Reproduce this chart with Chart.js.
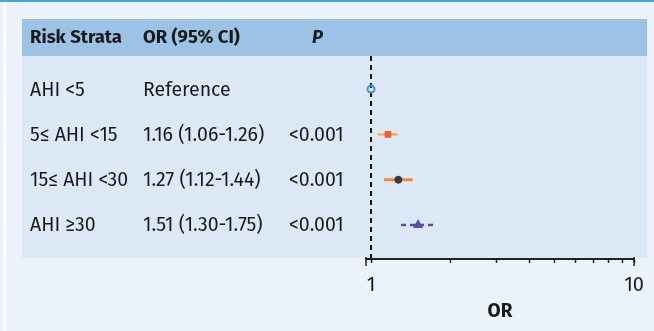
<!DOCTYPE html>
<html lang="en">
<head>
    <meta charset="UTF-8">
    <title>Risk Strata Forest Plot</title>
    <script src="https://cdn.jsdelivr.net/npm/chart.js"></script>
    <style>
        html, body { margin: 0; padding: 0; background: #ebf2fa; }
        #wrap { position: relative; width: 654px; height: 331px; }
    </style>
</head>
<body>
    <div id="wrap"><canvas id="forestChart" width="654" height="331"></canvas></div>
    <script>
        // table / plot values
        const strata = ['AHI <5', '5\u2264 AHI <15', '15\u2264 AHI <30', 'AHI \u226530'];
        const orText = ['Reference', '1.16 (1.06-1.26)', '1.27 (1.12-1.44)', '1.51 (1.30-1.75)'];
        const pText = ['', '<0.001', '<0.001', '<0.001'];
        const orValue = [1.0, 1.16, 1.27, 1.51];
        const ciLow = [null, 1.06, 1.12, 1.30];
        const ciHigh = [null, 1.26, 1.44, 1.75];
        const headers = ['Risk Strata', 'OR (95% CI)', 'P'];
        const xTicks = [1, 2, 3, 4, 5, 6, 7, 8, 9, 10];
        const refLine = 1;

        const pointColors = ['#3d8fd6', '#ef5a3c', '#3a3a3a', '#5b4ea0'];
        const ciColors = ['#3d8fd6', '#f8b04a', '#f08a30', '#5b4ea0'];
        const pointStyles = ['circle', 'rect', 'circle', 'triangle'];
        const FONT = '"Fira Sans", "Noto Sans", sans-serif';

        // background panels + table text + reference line
        const tablePlugin = {
            id: 'tablePlugin',
            beforeDraw(chart) {
                const ctx = chart.ctx;
                const area = chart.chartArea;
                ctx.save();
                ctx.fillStyle = '#ebf2fa';
                ctx.fillRect(0, 0, chart.width, chart.height);
                ctx.fillStyle = '#fbfdff';
                ctx.fillRect(3, 0, 3, chart.height);
                ctx.fillStyle = '#4fa3df';
                ctx.fillRect(0, 0, chart.width, 2);
                ctx.fillStyle = '#9cc2e6';
                ctx.fillRect(22, 19, 625, area.top - 19);
                ctx.fillStyle = '#dce8f5';
                ctx.fillRect(22, area.top, 625, area.bottom - area.top - 1);

                ctx.fillStyle = '#1a1a1a';
                ctx.textBaseline = 'middle';
                ctx.font = 'bold 18.5px ' + FONT;
                ctx.fillText(headers[0], 30, 38);
                ctx.fillText(headers[1], 143, 38);
                ctx.font = 'italic bold 18.5px ' + FONT;
                ctx.fillText(headers[2], 312, 38);

                const ys = chart.scales.y;
                ctx.font = '19.5px ' + FONT;
                strata.forEach((s, i) => {
                    const y = ys.getPixelForValue(i) + 1;
                    ctx.fillText(s, 30, y);
                    ctx.fillText(orText[i], 143, y);
                    ctx.fillText(pText[i], 289, y);
                });

                // dashed reference line at OR = 1
                const xr = chart.scales.x.getPixelForValue(refLine);
                ctx.strokeStyle = '#111';
                ctx.lineWidth = 2;
                ctx.setLineDash([5, 4]);
                ctx.beginPath();
                ctx.moveTo(xr, area.top);
                ctx.lineTo(xr, area.bottom);
                ctx.stroke();
                ctx.restore();
            },
            afterDraw(chart) {
                // end caps on the axis
                const ctx = chart.ctx;
                const xs = chart.scales.x;
                const yb = chart.chartArea.bottom;
                ctx.save();
                ctx.strokeStyle = '#222';
                ctx.lineWidth = 1.5;
                [xs.left, xs.right].forEach(x => {
                    ctx.beginPath();
                    ctx.moveTo(x, yb - 2);
                    ctx.lineTo(x, yb + 7);
                    ctx.stroke();
                });
                ctx.restore();
            }
        };

        const ciDatasets = orValue.map((v, i) => ({
            type: 'line',
            data: ciLow[i] == null ? [] : [{ x: ciLow[i], y: i }, { x: ciHigh[i], y: i }],
            borderColor: ciColors[i],
            borderWidth: i === 2 ? 3 : 2.5,
            borderDash: i === 3 ? [5, 4] : [],
            pointRadius: 0,
            order: 2
        }));

        const pointDataset = {
            type: 'scatter',
            data: orValue.map((v, i) => ({ x: v, y: i })),
            pointStyle: pointStyles,
            pointRadius: [3.5, 4, 3.5, 4.5],
            pointBorderWidth: [2, 1, 1, 1.5],
            pointBackgroundColor: ['rgba(0,0,0,0)', pointColors[1], pointColors[2], pointColors[3]],
            pointBorderColor: pointColors,
            order: 1
        };

        new Chart(document.getElementById('forestChart'), {
            type: 'scatter',
            data: { datasets: [...ciDatasets, pointDataset] },
            options: {
                responsive: false,
                animation: false,
                layout: { padding: { left: 366, right: 17, top: 56, bottom: 0 } },
                plugins: { legend: { display: false }, tooltip: { enabled: false } },
                scales: {
                    x: {
                        type: 'logarithmic',
                        min: 0.957,
                        max: 10,
                        afterBuildTicks(scale) {
                            scale.ticks = xTicks.map(v => ({ value: v }));
                        },
                        afterFit(scale) { scale.height = 72; },
                        grid: { drawOnChartArea: false, drawTicks: true, tickLength: 4, color: '#222', tickWidth: 1.5 },
                        border: { display: true, color: '#222', width: 2 },
                        ticks: {
                            autoSkip: false,
                            maxRotation: 0,
                            padding: 10,
                            color: '#1a1a1a',
                            font: { family: FONT, size: 20 },
                            callback: (v) => (v === 1 || v === 10) ? String(v) : ''
                        },
                        title: {
                            display: true,
                            text: 'OR',
                            color: '#1a1a1a',
                            font: { family: FONT, size: 19, weight: 'bold' },
                            padding: { top: 4, bottom: 8 }
                        }
                    },
                    y: {
                        type: 'linear',
                        min: -0.73,
                        max: 3.75,
                        reverse: true,
                        display: false
                    }
                }
            },
            plugins: [tablePlugin]
        });
    </script>
</body>
</html>
